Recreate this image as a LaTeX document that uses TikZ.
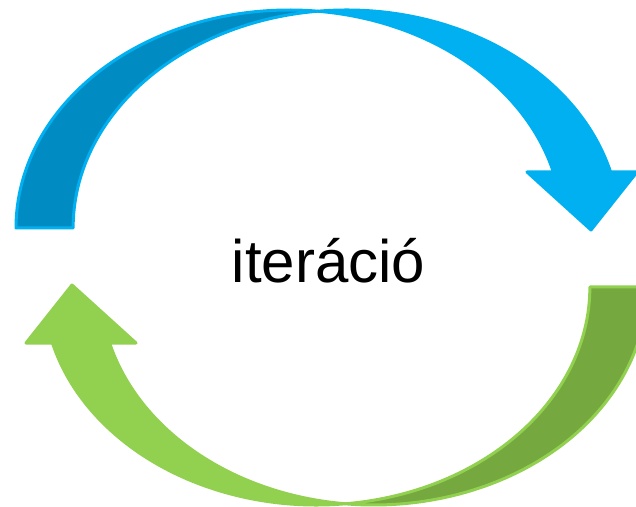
\documentclass[tikz,border=0pt]{standalone}
\usepackage{fontspec}
\setmainfont{Liberation Sans}
\definecolor{birumuda}{HTML}{00B0F0}
\definecolor{birutua}{HTML}{008CC2}
\definecolor{hijaumuda}{HTML}{92D050}
\definecolor{hijautua}{HTML}{75A83F}
\begin{document}
\begin{tikzpicture}[x=1pt,y=1pt,
  busur/.style={line width=3pt, line join=round},
  rusuk/.style={x radius=273.3, y radius=218}]
  \useasboundingbox (0,0) rectangle (636,506);
  % panah atas
  \fill[birutua, draw=birumuda, busur] (16,278)
    arc[rusuk, start angle=180, end angle=84]
    arc[rusuk, start angle=96, end angle=180] -- cycle;
  \fill[birumuda, draw=birumuda, busur] (317.87,494.8)
    arc[rusuk, start angle=96, end angle=14.9]
    -- (637,334) -- (591,276) -- (527,334) -- (553.4,334)
    arc[rusuk, start angle=14.9, end angle=84] -- cycle;
  % panah bawah
  \begin{scope}[rotate around={180:(331.5,248.5)}]
  \fill[hijautua, draw=hijaumuda, busur] (16,278)
    arc[rusuk, start angle=180, end angle=84]
    arc[rusuk, start angle=96, end angle=180] -- cycle;
  \fill[hijaumuda, draw=hijaumuda, busur] (317.87,494.8)
    arc[rusuk, start angle=96, end angle=14.9]
    -- (637,334) -- (591,276) -- (527,334) -- (553.4,334)
    arc[rusuk, start angle=14.9, end angle=84] -- cycle;
  \end{scope}
  \node[font=\fontsize{60}{72}\selectfont, anchor=base, inner sep=0pt] (judul)
    at (328.5,223) {iteráció};
\end{tikzpicture}
\end{document}
